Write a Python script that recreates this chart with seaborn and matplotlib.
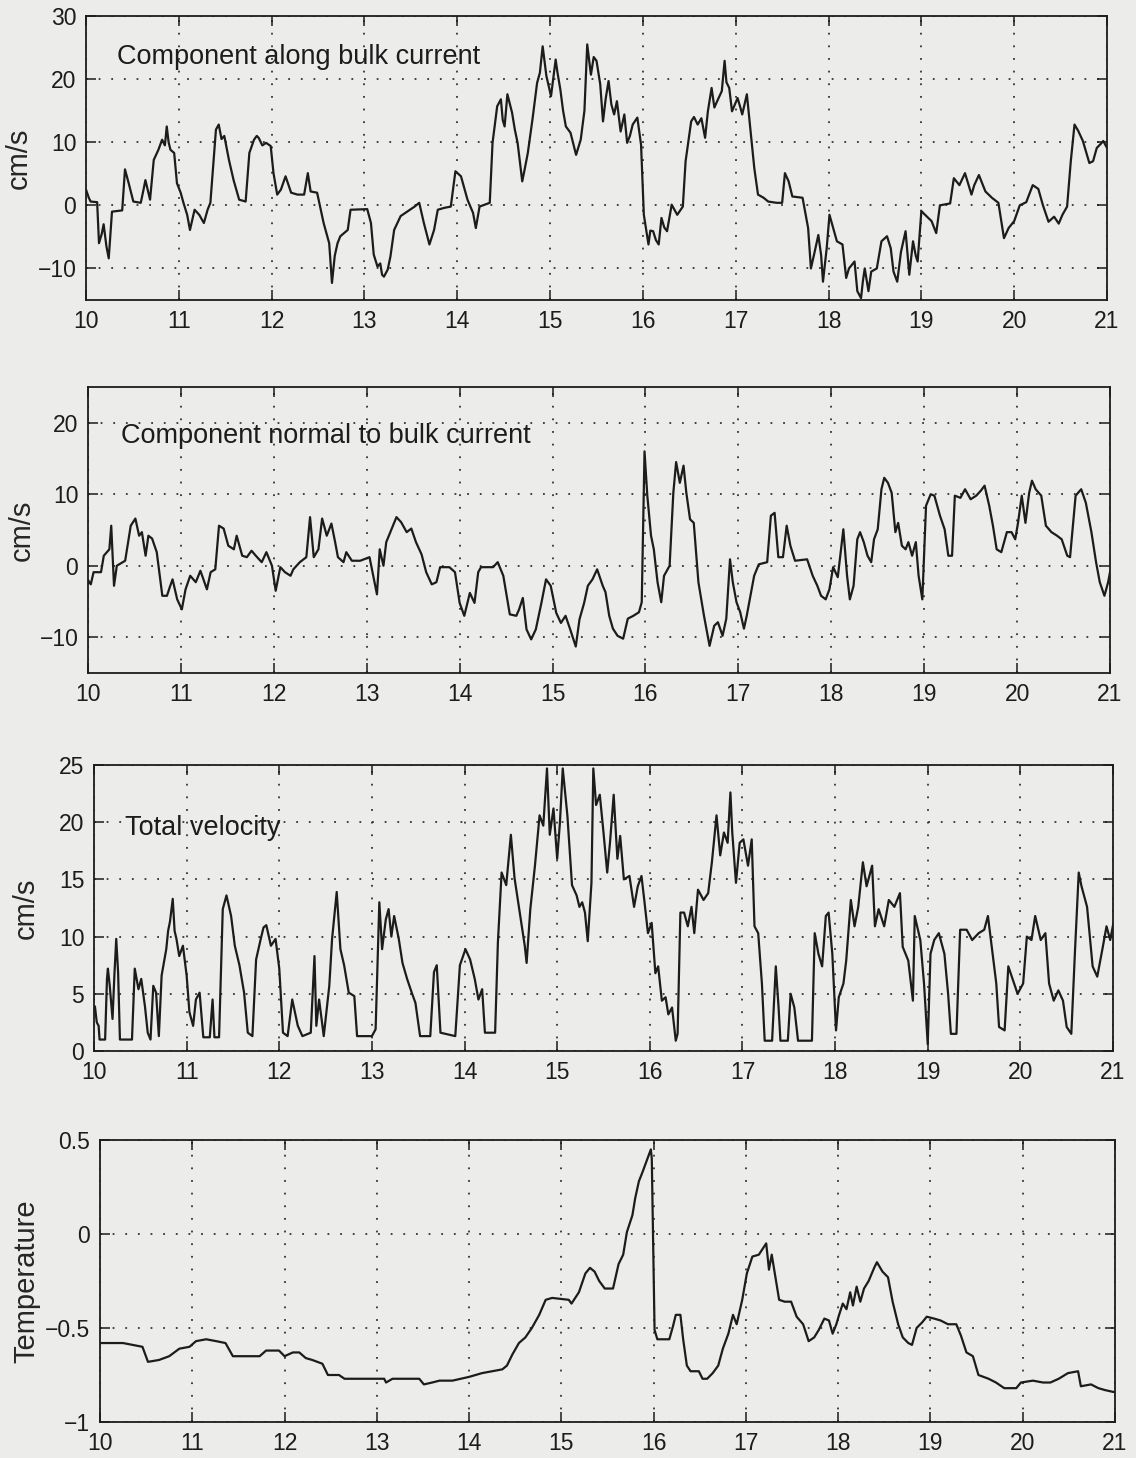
import matplotlib
matplotlib.use("Agg")
import matplotlib.pyplot as plt
import pandas as pd
import seaborn as sns

# ---- current-meter record, days 10-21 ----
# (day, cm/s) component along the bulk current
ALONG = [
    (10.00, 2.5), (10.03, 1.2), (10.05, 0.6), (10.12, 0.5), (10.14, -6.0), (10.17, -4.5),
    (10.19, -3.0), (10.22, -6.5), (10.245, -8.4), (10.28, -1.0), (10.39, -0.8), (10.42, 5.7),
    (10.46, 3.5), (10.51, 0.6), (10.59, 0.4), (10.62, 2.5), (10.64, 4.0), (10.69, 0.9),
    (10.73, 7.2), (10.78, 8.8), (10.82, 10.4), (10.85, 9.5), (10.87, 12.5), (10.89, 10.0),
    (10.91, 8.8), (10.95, 8.3), (10.98, 3.5), (11.02, 2.0), (11.05, 0.4), (11.09, -1.5),
    (11.12, -3.9), (11.17, -0.7), (11.22, -1.5), (11.27, -2.8), (11.31, -0.7), (11.34, 0.4),
    (11.40, 12.0), (11.43, 12.8), (11.46, 10.5), (11.49, 11.0), (11.54, 7.2), (11.59, 4.0),
    (11.65, 0.9), (11.72, 0.6), (11.76, 8.3), (11.81, 10.4), (11.84, 11.0), (11.86, 10.7),
    (11.90, 9.5), (11.94, 9.9), (11.99, 9.4), (12.02, 5.1), (12.06, 1.7), (12.10, 2.5),
    (12.15, 4.6), (12.21, 2.0), (12.28, 1.7), (12.35, 1.7), (12.39, 5.1), (12.42, 2.2),
    (12.49, 2.0), (12.56, -2.8), (12.62, -6.0), (12.65, -12.3), (12.68, -8.0), (12.71, -6.0),
    (12.74, -4.9), (12.78, -4.4), (12.82, -3.9), (12.85, -0.7), (13.03, -0.6), (13.07, -2.8),
    (13.10, -7.8), (13.14, -9.7), (13.17, -9.2), (13.19, -11.0), (13.21, -11.3), (13.25, -10.2),
    (13.28, -8.1), (13.32, -3.9), (13.39, -1.7), (13.46, -1.0), (13.54, -0.2), (13.59, 0.4),
    (13.64, -2.8), (13.70, -6.2), (13.75, -3.9), (13.79, -0.7), (13.86, -0.4), (13.93, -0.2),
    (13.98, 5.4), (14.04, 4.6), (14.11, 0.9), (14.17, -1.2), (14.20, -3.6), (14.24, -0.2),
    (14.35, 0.4), (14.38, 9.9), (14.43, 15.7), (14.47, 16.8), (14.49, 13.5), (14.51, 12.5),
    (14.54, 17.6), (14.59, 14.7), (14.62, 12.0), (14.65, 9.9), (14.70, 3.8), (14.73, 6.0),
    (14.76, 8.3), (14.81, 13.6), (14.86, 19.4), (14.89, 21.0), (14.92, 25.2), (14.96, 20.5),
    (15.01, 17.3), (15.06, 23.1), (15.08, 21.0), (15.11, 18.4), (15.14, 15.0), (15.17, 12.5),
    (15.22, 11.5), (15.28, 8.0), (15.33, 10.4), (15.37, 15.0), (15.40, 25.5), (15.44, 20.7),
    (15.47, 23.5), (15.50, 22.9), (15.54, 19.2), (15.57, 13.3), (15.60, 17.0), (15.63, 19.7),
    (15.66, 16.0), (15.69, 14.4), (15.72, 16.5), (15.76, 11.7), (15.80, 14.4), (15.83, 9.9),
    (15.86, 11.0), (15.89, 12.8), (15.94, 13.9), (15.98, 9.6), (16.01, -1.5), (16.06, -6.2),
    (16.08, -4.0), (16.11, -4.1), (16.14, -5.5), (16.17, -6.2), (16.20, -2.0), (16.23, -3.5),
    (16.26, -4.1), (16.31, 0.1), (16.37, -1.5), (16.43, -0.2), (16.46, 7.0), (16.52, 13.3),
    (16.55, 14.0), (16.59, 12.8), (16.63, 13.8), (16.67, 10.7), (16.70, 14.9), (16.74, 18.6),
    (16.77, 15.5), (16.80, 16.5), (16.85, 18.1), (16.88, 22.9), (16.90, 19.5), (16.93, 18.6),
    (16.96, 14.9), (17.02, 17.0), (17.05, 15.5), (17.07, 14.4), (17.12, 17.6), (17.17, 10.2),
    (17.20, 5.9), (17.24, 1.7), (17.30, 1.2), (17.35, 0.6), (17.44, 0.4), (17.50, 0.4),
    (17.53, 5.1), (17.57, 3.8), (17.61, 1.4), (17.72, 1.2), (17.78, -3.6), (17.81, -10.0),
    (17.85, -7.4), (17.89, -4.7), (17.92, -7.9), (17.94, -12.1), (17.98, -6.8), (18.01, -1.5),
    (18.06, -4.1), (18.09, -5.7), (18.15, -6.2), (18.19, -11.5), (18.22, -10.0), (18.28, -8.9),
    (18.31, -13.6), (18.35, -14.7), (18.37, -12.0), (18.39, -10.0), (18.43, -13.6), (18.46, -10.5),
    (18.52, -10.0), (18.57, -5.7), (18.63, -4.9), (18.67, -6.8), (18.70, -10.5), (18.74, -12.1),
    (18.78, -7.4), (18.83, -4.1), (18.87, -11.0), (18.91, -5.7), (18.94, -8.0), (18.96, -8.9),
    (19.00, -0.9), (19.04, -1.5), (19.11, -2.5), (19.16, -4.4), (19.20, 0.0), (19.31, 0.3),
    (19.35, 4.3), (19.41, 3.2), (19.47, 5.1), (19.54, 1.7), (19.57, 3.2), (19.62, 4.8),
    (19.69, 2.2), (19.76, 1.2), (19.83, 0.4), (19.89, -5.2), (19.94, -3.6), (20.00, -2.5),
    (20.06, 0.0), (20.13, 0.5), (20.20, 3.2), (20.26, 2.6), (20.31, 0.0), (20.37, -2.6),
    (20.43, -1.8), (20.48, -2.9), (20.52, -1.5), (20.57, -0.2), (20.61, 7.0), (20.65, 12.8),
    (20.69, 11.8), (20.74, 10.2), (20.81, 6.7), (20.85, 7.0), (20.89, 9.1), (20.93, 9.7),
    (20.96, 10.2), (21.00, 9.1),
]

# (day, cm/s) component normal to the bulk current
NORMAL = [
    (10.00, -2.0), (10.03, -2.6), (10.06, -0.9), (10.14, -0.9), (10.17, 1.4), (10.23, 2.3),
    (10.25, 5.6), (10.28, -2.8), (10.31, 0.0), (10.40, 0.7), (10.46, 5.6), (10.51, 6.6),
    (10.55, 4.2), (10.58, 4.7), (10.62, 1.4), (10.65, 4.2), (10.69, 3.8), (10.74, 1.9),
    (10.80, -4.2), (10.85, -4.2), (10.88, -3.0), (10.91, -1.9), (10.96, -4.7), (11.01, -6.1),
    (11.05, -3.3), (11.10, -1.4), (11.16, -2.3), (11.21, -0.7), (11.28, -3.3), (11.32, -0.9),
    (11.37, -0.5), (11.41, 5.6), (11.46, 5.2), (11.51, 2.8), (11.57, 2.3), (11.60, 4.2),
    (11.66, 1.4), (11.71, 1.2), (11.76, 2.1), (11.82, 1.2), (11.87, 0.5), (11.92, 1.9),
    (11.98, 0.0), (12.02, -3.5), (12.07, -0.2), (12.12, -0.9), (12.18, -1.4), (12.21, -0.5),
    (12.28, 0.5), (12.35, 1.2), (12.39, 6.8), (12.43, 1.2), (12.48, 2.3), (12.52, 6.6),
    (12.57, 4.2), (12.62, 5.9), (12.66, 3.3), (12.69, 1.2), (12.75, 0.5), (12.78, 1.9),
    (12.84, 0.7), (12.93, 0.7), (13.03, 1.2), (13.07, -1.4), (13.11, -4.0), (13.14, 2.3),
    (13.18, 0.0), (13.21, 3.3), (13.27, 5.2), (13.32, 6.8), (13.37, 6.1), (13.43, 4.7),
    (13.48, 5.2), (13.53, 3.3), (13.59, 1.6), (13.64, -0.9), (13.70, -2.6), (13.75, -2.3),
    (13.79, -0.2), (13.89, -0.2), (13.95, -0.9), (14.00, -5.2), (14.05, -7.0), (14.11, -3.8),
    (14.16, -5.2), (14.20, -0.9), (14.23, -0.2), (14.36, -0.2), (14.41, 0.5), (14.47, -1.4),
    (14.54, -6.8), (14.61, -7.0), (14.64, -6.1), (14.68, -4.5), (14.72, -8.9), (14.77, -10.3),
    (14.82, -8.9), (14.88, -5.2), (14.93, -1.9), (14.98, -2.8), (15.04, -6.6), (15.09, -8.0),
    (15.14, -7.0), (15.19, -8.9), (15.25, -11.3), (15.29, -7.5), (15.34, -5.2), (15.38, -2.8),
    (15.43, -1.9), (15.48, -0.5), (15.54, -2.8), (15.57, -3.7), (15.61, -7.0), (15.65, -8.8),
    (15.70, -9.8), (15.76, -10.2), (15.81, -7.4), (15.87, -7.0), (15.93, -6.5), (15.96, -5.1),
    (15.99, 16.0), (16.02, 9.8), (16.06, 4.2), (16.09, 2.3), (16.13, -2.3), (16.17, -5.1),
    (16.20, -1.4), (16.26, 0.0), (16.30, 10.2), (16.33, 14.5), (16.37, 11.6), (16.41, 14.0),
    (16.44, 10.2), (16.48, 6.5), (16.52, 6.0), (16.57, -2.3), (16.63, -7.0), (16.69, -11.2),
    (16.74, -8.4), (16.78, -7.9), (16.83, -9.8), (16.87, -7.4), (16.91, 0.9), (16.94, -2.3),
    (16.98, -5.1), (17.02, -6.5), (17.06, -8.8), (17.09, -7.0), (17.13, -4.2), (17.17, -1.4),
    (17.22, 0.2), (17.31, 0.5), (17.35, 7.0), (17.39, 7.4), (17.43, 1.2), (17.48, 1.2),
    (17.52, 5.6), (17.56, 2.8), (17.61, 0.7), (17.74, 0.9), (17.80, -1.4), (17.85, -2.8),
    (17.89, -4.2), (17.94, -4.7), (17.98, -3.3), (18.02, -0.2), (18.07, -1.6), (18.13, 5.1),
    (18.17, -1.4), (18.20, -4.7), (18.24, -2.8), (18.28, 3.7), (18.31, 4.7), (18.35, 3.3),
    (18.39, 1.4), (18.43, 0.5), (18.46, 3.7), (18.50, 5.1), (18.54, 10.7), (18.57, 12.3),
    (18.61, 11.6), (18.65, 10.2), (18.69, 4.7), (18.72, 6.0), (18.76, 2.8), (18.80, 2.3),
    (18.83, 3.3), (18.87, 1.4), (18.91, 3.3), (18.94, -1.4), (18.98, -4.7), (19.02, 8.4),
    (19.07, 10.0), (19.11, 9.8), (19.17, 7.0), (19.22, 5.1), (19.26, 1.4), (19.30, 1.4),
    (19.33, 9.8), (19.39, 9.5), (19.44, 10.7), (19.50, 9.3), (19.56, 9.8), (19.61, 10.5),
    (19.65, 11.2), (19.70, 8.4), (19.74, 5.6), (19.78, 2.3), (19.83, 1.9), (19.89, 4.7),
    (19.94, 4.7), (19.98, 3.7), (20.01, 6.0), (20.05, 9.8), (20.09, 6.0), (20.13, 10.2),
    (20.16, 11.9), (20.20, 10.7), (20.26, 9.8), (20.31, 5.6), (20.37, 4.7), (20.43, 4.2),
    (20.48, 3.7), (20.54, 1.4), (20.57, 1.2), (20.63, 9.8), (20.69, 10.7), (20.74, 8.8),
    (20.80, 4.7), (20.85, 0.5), (20.89, -2.3), (20.94, -4.2), (20.98, -2.3), (21.00, -0.9),
]

# (day, cm/s) total speed
TOTAL = [
    (10.00, 3.5), (10.01, 3.9), (10.03, 2.5), (10.05, 2.2), (10.06, 1.0), (10.12, 1.0),
    (10.14, 6.3), (10.15, 7.2), (10.17, 5.7), (10.20, 2.8), (10.22, 6.6), (10.24, 9.8),
    (10.26, 6.9), (10.28, 1.0), (10.41, 1.0), (10.44, 7.2), (10.48, 5.4), (10.51, 6.3),
    (10.55, 3.9), (10.58, 1.6), (10.61, 1.0), (10.64, 5.7), (10.67, 5.1), (10.70, 1.3),
    (10.73, 6.6), (10.78, 8.9), (10.80, 10.5), (10.82, 11.3), (10.85, 13.3), (10.87, 10.5),
    (10.89, 9.8), (10.92, 8.3), (10.96, 9.2), (11.00, 6.6), (11.03, 3.4), (11.07, 2.2),
    (11.10, 4.5), (11.14, 5.1), (11.18, 1.2), (11.25, 1.2), (11.28, 4.5), (11.30, 1.2),
    (11.35, 1.2), (11.39, 12.4), (11.43, 13.6), (11.48, 11.8), (11.52, 9.2), (11.57, 7.5),
    (11.62, 5.1), (11.66, 1.6), (11.71, 1.3), (11.75, 8.0), (11.80, 9.8), (11.83, 10.8),
    (11.86, 11.0), (11.91, 9.2), (11.96, 9.8), (12.00, 7.2), (12.04, 1.6), (12.09, 1.3),
    (12.14, 4.5), (12.20, 2.2), (12.25, 1.3), (12.34, 1.6), (12.38, 8.3), (12.40, 2.2),
    (12.43, 4.5), (12.48, 1.3), (12.54, 5.7), (12.57, 9.8), (12.62, 13.9), (12.66, 8.9),
    (12.70, 7.5), (12.75, 5.1), (12.81, 4.8), (12.84, 1.3), (13.00, 1.3), (13.04, 1.9),
    (13.08, 13.0), (13.11, 8.9), (13.15, 11.5), (13.18, 12.4), (13.21, 10.0), (13.24, 11.8),
    (13.29, 9.8), (13.33, 7.7), (13.38, 6.3), (13.43, 5.1), (13.47, 4.2), (13.52, 1.3),
    (13.63, 1.3), (13.67, 6.9), (13.70, 7.5), (13.74, 1.6), (13.90, 1.3), (13.95, 7.5),
    (14.01, 8.9), (14.06, 8.0), (14.11, 6.3), (14.15, 4.5), (14.19, 5.4), (14.22, 1.6),
    (14.33, 1.6), (14.36, 9.5), (14.40, 15.6), (14.45, 14.5), (14.50, 18.9), (14.54, 15.1),
    (14.59, 12.4), (14.65, 9.2), (14.67, 7.7), (14.71, 12.4), (14.76, 16.2), (14.81, 20.6),
    (14.85, 19.7), (14.89, 24.7), (14.92, 18.9), (14.96, 21.2), (15.00, 16.8), (15.03, 20.0),
    (15.06, 24.7), (15.11, 20.6), (15.16, 14.5), (15.21, 13.6), (15.24, 12.6), (15.27, 13.0),
    (15.30, 12.1), (15.33, 9.6), (15.37, 14.7), (15.39, 24.7), (15.42, 21.5), (15.46, 22.4),
    (15.50, 19.1), (15.54, 15.6), (15.57, 18.2), (15.61, 22.4), (15.65, 16.8), (15.68, 18.8),
    (15.72, 15.0), (15.78, 15.3), (15.83, 12.6), (15.87, 14.4), (15.91, 15.3), (15.94, 13.2),
    (15.98, 10.3), (16.02, 11.2), (16.06, 6.8), (16.09, 7.4), (16.13, 4.4), (16.17, 4.7),
    (16.20, 3.2), (16.24, 3.8), (16.28, 0.9), (16.30, 1.5), (16.33, 12.1), (16.37, 12.1),
    (16.41, 10.9), (16.45, 12.6), (16.48, 10.3), (16.52, 14.1), (16.58, 13.2), (16.63, 13.8),
    (16.67, 16.5), (16.72, 20.6), (16.76, 17.1), (16.80, 19.1), (16.84, 18.2), (16.87, 22.6),
    (16.89, 19.1), (16.93, 14.7), (16.97, 18.2), (17.01, 18.5), (17.06, 16.2), (17.10, 18.5),
    (17.13, 10.9), (17.17, 10.3), (17.21, 5.9), (17.24, 0.9), (17.32, 0.9), (17.36, 7.4),
    (17.39, 3.8), (17.41, 0.9), (17.49, 0.9), (17.52, 5.0), (17.56, 3.8), (17.60, 0.9),
    (17.75, 0.9), (17.78, 10.3), (17.82, 8.5), (17.86, 7.4), (17.90, 11.8), (17.93, 12.1),
    (17.97, 8.5), (18.01, 1.8), (18.04, 4.7), (18.09, 5.9), (18.12, 7.9), (18.17, 13.2),
    (18.21, 10.9), (18.25, 12.6), (18.30, 16.5), (18.34, 14.4), (18.40, 16.2), (18.43, 10.9),
    (18.47, 12.4), (18.53, 10.9), (18.58, 13.2), (18.64, 12.6), (18.70, 13.8), (18.73, 9.1),
    (18.79, 7.9), (18.84, 4.4), (18.86, 11.8), (18.92, 9.7), (18.96, 5.9), (19.00, 0.6),
    (19.03, 8.5), (19.07, 9.7), (19.12, 10.3), (19.18, 8.5), (19.22, 5.0), (19.25, 1.5),
    (19.31, 1.5), (19.35, 10.6), (19.42, 10.6), (19.48, 9.7), (19.55, 10.3), (19.61, 10.6),
    (19.65, 11.8), (19.70, 8.5), (19.74, 5.9), (19.77, 2.1), (19.83, 1.8), (19.87, 7.4),
    (19.92, 6.2), (19.97, 5.0), (20.03, 5.9), (20.07, 10.0), (20.12, 9.7), (20.16, 11.8),
    (20.22, 9.7), (20.27, 10.3), (20.31, 5.9), (20.36, 4.4), (20.41, 5.3), (20.46, 4.4),
    (20.50, 2.1), (20.55, 1.5), (20.59, 8.8), (20.63, 15.6), (20.66, 14.4), (20.72, 12.6),
    (20.78, 7.4), (20.83, 6.5), (20.89, 9.1), (20.93, 10.9), (20.97, 9.7), (21.00, 11.0),
]

# (day, deg C) water temperature
TEMP = [
    (10.00, -0.58), (10.25, -0.58), (10.46, -0.60), (10.52, -0.68), (10.64, -0.67),
    (10.75, -0.65), (10.86, -0.61), (10.97, -0.60), (11.04, -0.57), (11.15, -0.56),
    (11.26, -0.57), (11.36, -0.58), (11.44, -0.65), (11.51, -0.65), (11.73, -0.65),
    (11.80, -0.62), (11.94, -0.62), (12.00, -0.65), (12.09, -0.63), (12.16, -0.63),
    (12.23, -0.66), (12.30, -0.67), (12.41, -0.69), (12.47, -0.75), (12.59, -0.75),
    (12.65, -0.77), (12.77, -0.77), (12.95, -0.77), (13.08, -0.77), (13.10, -0.79),
    (13.17, -0.77), (13.46, -0.77), (13.51, -0.80), (13.60, -0.79), (13.68, -0.78),
    (13.82, -0.78), (14.00, -0.76), (14.14, -0.74), (14.25, -0.73), (14.36, -0.72),
    (14.41, -0.70), (14.47, -0.64), (14.54, -0.58), (14.61, -0.55), (14.68, -0.50),
    (14.76, -0.43), (14.83, -0.35), (14.90, -0.34), (15.08, -0.35), (15.11, -0.37),
    (15.19, -0.31), (15.26, -0.21), (15.31, -0.18), (15.36, -0.20), (15.41, -0.25),
    (15.47, -0.29), (15.56, -0.29), (15.62, -0.16), (15.67, -0.11), (15.71, 0.01),
    (15.77, 0.10), (15.80, 0.19), (15.84, 0.28), (15.88, 0.33), (15.91, 0.37),
    (15.97, 0.45), (15.98, 0.40), (16.01, -0.51), (16.04, -0.56), (16.17, -0.56),
    (16.21, -0.49), (16.24, -0.43), (16.29, -0.43), (16.32, -0.56), (16.36, -0.70),
    (16.40, -0.73), (16.49, -0.73), (16.53, -0.77), (16.58, -0.77), (16.64, -0.74),
    (16.70, -0.70), (16.75, -0.61), (16.81, -0.53), (16.86, -0.43), (16.90, -0.48),
    (16.96, -0.35), (17.01, -0.21), (17.07, -0.12), (17.14, -0.11), (17.18, -0.08),
    (17.22, -0.05), (17.25, -0.19), (17.28, -0.11), (17.33, -0.26), (17.36, -0.35),
    (17.42, -0.36), (17.49, -0.36), (17.55, -0.44), (17.62, -0.48), (17.68, -0.57),
    (17.74, -0.55), (17.79, -0.51), (17.85, -0.45), (17.90, -0.46), (17.94, -0.53),
    (17.98, -0.48), (18.01, -0.43), (18.05, -0.37), (18.09, -0.40), (18.13, -0.31),
    (18.16, -0.38), (18.20, -0.28), (18.24, -0.36), (18.28, -0.29), (18.33, -0.25),
    (18.39, -0.18), (18.42, -0.15), (18.48, -0.20), (18.54, -0.23), (18.59, -0.36),
    (18.65, -0.48), (18.70, -0.55), (18.76, -0.58), (18.80, -0.59), (18.85, -0.50),
    (18.91, -0.47), (18.96, -0.44), (19.04, -0.45), (19.11, -0.46), (19.19, -0.48),
    (19.28, -0.48), (19.33, -0.54), (19.39, -0.63), (19.46, -0.65), (19.52, -0.75),
    (19.63, -0.77), (19.71, -0.79), (19.80, -0.82), (19.93, -0.82), (19.98, -0.79),
    (20.11, -0.78), (20.22, -0.79), (20.30, -0.79), (20.39, -0.77), (20.49, -0.74),
    (20.60, -0.73), (20.63, -0.81), (20.74, -0.80), (20.82, -0.82), (20.89, -0.83),
    (20.98, -0.84), (21.00, -0.84),
]

DAY_TICKS = [10, 11, 12, 13, 14, 15, 16, 17, 18, 19, 20, 21]

PANELS = [
    dict(data=ALONG, ylim=(-15, 30), yticks=[-10, 0, 10, 20, 30], ylabel="cm/s",
         title="Component along bulk current", title_xy=(10.33, 23.5)),
    dict(data=NORMAL, ylim=(-15, 25), yticks=[-10, 0, 10, 20], ylabel="cm/s",
         title="Component normal to bulk current", title_xy=(10.35, 18.2)),
    dict(data=TOTAL, ylim=(0, 25), yticks=[0, 5, 10, 15, 20, 25], ylabel="cm/s",
         title="Total velocity", title_xy=(10.34, 19.5)),
    dict(data=TEMP, ylim=(-1, 0.5), yticks=[-1, -0.5, 0, 0.5], ylabel="Temperature",
         title=None, title_xy=None),
]

PAPER = "#ececeb"
INK = "#1c1c1c"

sns.set_theme(style="ticks")
plt.rcParams.update({
    "figure.facecolor": PAPER,
    "axes.facecolor": PAPER,
    "axes.edgecolor": INK,
    "axes.linewidth": 1.3,
    "axes.unicode_minus": True,
    "xtick.color": INK,
    "ytick.color": INK,
    "text.color": INK,
})
plt.rcParams["font.family"] = ["Liberation Sans", "DejaVu Sans"]

W, H = 1136, 1458
# panel frames in pixels: (left, right, top, bottom, right edge of y label)
FRAMES = [
    (86, 1107, 16, 300, 33),
    (88, 1110, 387, 673, 36),
    (94, 1113, 765, 1051, 40),
    (100, 1115, 1140, 1422, 40),
]

fig = plt.figure(figsize=(W / 100, H / 100), dpi=100)

for spec, (left, right, top, bottom, lab_x) in zip(PANELS, FRAMES):
    ax = fig.add_axes([left / W, 1 - bottom / H, (right - left) / W, (bottom - top) / H])
    df = pd.DataFrame(spec["data"], columns=["day", "value"])
    sns.lineplot(data=df, x="day", y="value", ax=ax, color=INK, linewidth=1.6,
                 estimator=None, sort=False)
    ax.set_xlim(10, 21)
    ax.set_ylim(*spec["ylim"])
    ax.set_xticks(DAY_TICKS)
    ax.set_yticks(spec["yticks"])
    ax.set_yticklabels([f"{v:g}".replace("-", "\u2212") for v in spec["yticks"]])
    ax.grid(True, linestyle=(0, (1, 6)), linewidth=1.3, color="#333333")
    ax.tick_params(direction="in", top=True, right=True, length=7, width=1.1,
                   labelsize=16.5, pad=7)
    ax.set_xlabel("")
    ax.set_ylabel(spec["ylabel"], fontsize=21)
    ax.yaxis.set_label_coords((lab_x - left) / (right - left), 0.5)
    for side in ("top", "right", "bottom", "left"):
        ax.spines[side].set_visible(True)
    if spec["title"]:
        ax.text(*spec["title_xy"], spec["title"], fontsize=19.5, ha="left", va="center")

fig.savefig("out.png", dpi=100, facecolor=PAPER)
